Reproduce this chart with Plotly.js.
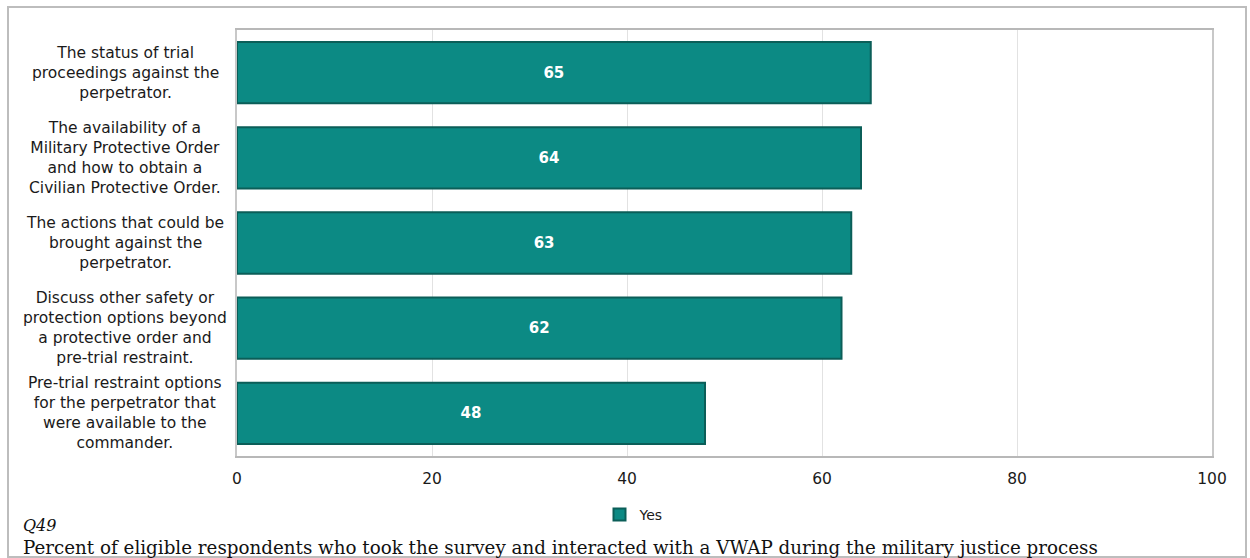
<!DOCTYPE html>
<html><head><meta charset="utf-8">
<script src="https://cdn.plot.ly/plotly-3.0.1.min.js"></script>
<style>html,body{margin:0;padding:0;background:#fff;}#chart{width:1250px;height:558px;}</style>
</head><body><div id="chart"></div>
<script>
const categories = [
  "The status of trial<br>proceedings against the<br>perpetrator.",
  "The availability of a<br>Military Protective Order<br>and how to obtain a<br>Civilian Protective Order.",
  "The actions that could be<br>brought against the<br>perpetrator.",
  "Discuss other safety or<br>protection options beyond<br>a protective order and<br>pre-trial restraint.",
  "Pre-trial restraint options<br>for the perpetrator that<br>were available to the<br>commander."
];
const yesValues = [65, 64, 63, 62, 48];
const xTicks = [0, 20, 40, 60, 80, 100];
const seriesName = "Yes";
const noteTitle = "Q49";
const noteText = "Percent of eligible respondents who took the survey and interacted with a VWAP during the military justice process";

const W = 1250, H = 558, L = 237, R = 38, T = 30, B = 102;
const pw = W - L - R, ph = H - T - B;
const px = x => (x - L) / pw;
const py = y => (H - B - y) / ph;
const SANS = 'DejaVu Sans, Arial, sans-serif';
const SERIF = 'DejaVu Serif, Times New Roman, serif';

const trace = {
  type: 'bar', orientation: 'h',
  y: categories, x: yesValues, name: seriesName,
  text: yesValues.map(String), textposition: 'inside', insidetextanchor: 'middle',
  textfont: {family: SANS, size: 15, color: '#ffffff', weight: 'bold'},
  marker: {color: '#0c8a84', line: {color: '#0b5e58', width: 2}},
  showlegend: true, hoverinfo: 'none'
};

const annotations = categories.map(c => ({
  xref: 'paper', yref: 'y', x: px(125), y: c, text: c, showarrow: false,
  xanchor: 'center', yanchor: 'middle', align: 'center',
  font: {family: SANS, size: 15.5, color: '#1a1a1a'}
}));
annotations.push({
  xref: 'paper', yref: 'paper', x: px(21), y: py(525), text: '<i>' + noteTitle + '</i>', showarrow: false,
  xanchor: 'left', yanchor: 'middle',
  font: {family: SERIF, size: 16, color: '#111'}
});
annotations.push({
  xref: 'paper', yref: 'paper', x: px(21), y: py(547), text: noteText, showarrow: false,
  xanchor: 'left', yanchor: 'middle',
  font: {family: SERIF, size: 18.3, color: '#111'}
});

const layout = {
  width: W, height: H,
  margin: {l: L, r: R, t: T, b: B, pad: 0},
  paper_bgcolor: '#ffffff', plot_bgcolor: '#ffffff',
  bargap: 0.28,
  font: {family: SANS, size: 15, color: '#1a1a1a'},
  xaxis: {
    range: [0, 100], tickvals: xTicks, ticktext: xTicks.map(String),
    showgrid: true, gridcolor: '#e2e2e2', gridwidth: 1,
    zeroline: false, showline: true, linecolor: '#b8b8b8', linewidth: 2, mirror: true,
    ticks: '', ticklen: 0, ticklabelstandoff: 7, tickfont: {family: SANS, size: 15.5, color: '#1a1a1a'}
  },
  yaxis: {
    autorange: 'reversed', showticklabels: false, ticks: '',
    showgrid: false, zeroline: false, showline: true, linecolor: '#c8c8c8', linewidth: 2, mirror: true
  },
  legend: {
    orientation: 'h', xref: 'paper', yref: 'paper', x: px(634), y: py(515),
    xanchor: 'center', yanchor: 'middle', font: {family: SANS, size: 14, color: '#1a1a1a'},
    itemwidth: 30, bgcolor: 'rgba(0,0,0,0)'
  },
  annotations: annotations,
  shapes: [{
    type: 'rect', xref: 'paper', yref: 'paper', layer: 'below',
    x0: px(8), x1: px(1246), y0: py(557), y1: py(7),
    line: {color: '#bdbdbd', width: 2}, fillcolor: 'rgba(0,0,0,0)'
  }]
};

Plotly.newPlot('chart', [trace], layout, {displayModeBar: false, staticPlot: true});
</script>
</body></html>
